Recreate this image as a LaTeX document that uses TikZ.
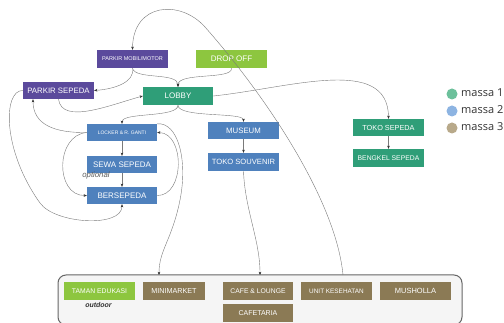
\documentclass[tikz,border=0pt]{standalone}
\usepackage{fontspec}
\setmainfont{Liberation Sans}
\newfontfamily\legfont{Open Sans}
\usetikzlibrary{arrows.meta}
\definecolor{cpurple}{HTML}{5B4A9C}
\definecolor{cgreen}{HTML}{8DC63F}
\definecolor{cteal}{HTML}{2F9E78}
\definecolor{cblue}{HTML}{4F81BD}
\definecolor{ctan}{HTML}{8B7A55}
\definecolor{lteal}{HTML}{6CC09B}
\definecolor{lblue}{HTML}{8DB4E2}
\definecolor{ltan}{HTML}{B8A98A}
\definecolor{linkgray}{HTML}{7A7A7A}
\newcommand{\fs}[1]{\fontsize{#1}{#1}\selectfont}
\tikzset{
  box/.style={minimum width=71pt, minimum height=17pt, inner sep=0pt, text=white, font=\fs{7.5}},
  link/.style={draw=linkgray, line width=0.4pt, -{Stealth[length=3.2pt,width=2.6pt,color=black!80]}},
}
\begin{document}
\begin{tikzpicture}[x=1pt,y=-1pt]
\useasboundingbox (0,0) rectangle (504,323);
\fill[white] (0,0) rectangle (504,323);
\begin{scope}
\clip (0,0) rectangle (504,323);
% container
\node[draw=black!60, line width=1pt, fill=black!4, rounded corners=8pt, minimum width=404pt, minimum height=50pt, inner sep=0pt] (cont) at (260,300) {};
\end{scope}
\coordinate (inmini) at (159,275);
\coordinate (incafe) at (260,275);
\coordinate (outc) at (343,275);

% nodes
\node[box, fill=cpurple, minimum height=18pt, font=\fs{5.5}] (pmm) at (132.5,59) {PARKIR MOBIL/MOTOR};
\node[box, fill=cgreen, minimum height=18pt, font=\fs{8}] (drop) at (231.5,59) {DROP OFF};
\node[box, fill=cpurple, font=\fs{7.8}] (ps) at (58.5,90.5) {PARKIR SEPEDA};
\node[box, fill=cteal, minimum width=70pt, minimum height=18pt, font=\fs{8}] (lobby) at (178,96) {LOBBY};
\node[box, fill=cblue, minimum width=70pt, font=\fs{5}] (locker) at (122,132.5) {LOCKER \& R. GANTI};
\node[box, fill=cblue, minimum width=70pt, font=\fs{8}] (sewa) at (122,164.5) {SEWA SEPEDA};
\node[box, fill=cblue, minimum width=70pt, font=\fs{8}] (bers) at (122,195.5) {BERSEPEDA};
\node[box, fill=cblue, font=\fs{7.8}] (museum) at (243.5,130.5) {MUSEUM};
\node[box, fill=cblue, minimum height=18pt, font=\fs{7.6}] (souv) at (243.5,162) {TOKO SOUVENIR};
\node[box, fill=cteal, font=\fs{7.3}] (tsep) at (388.5,127.5) {TOKO SEPEDA};
\node[box, fill=cteal, minimum height=18pt, font=\fs{6.8}] (beng) at (388.5,158) {BENGKEL SEPEDA};
\node[box, fill=cgreen, minimum height=18pt, font=\fs{6.8}] (taman) at (99.5,291) {TAMAN EDUKASI};
\node[box, fill=ctan, minimum width=62pt, minimum height=18pt, font=\fs{7.2}] (mini) at (174,291) {MINIMARKET};
\node[box, fill=ctan, minimum width=70pt, minimum height=18pt, font=\fs{6.8}] (cafe) at (258,291) {CAFE \& LOUNGE};
\node[box, fill=ctan, minimum width=70pt, minimum height=18pt, font=\fs{7}] (cafet) at (258,313) {CAFETARIA};
\node[box, fill=ctan, minimum height=18pt, font=\fs{6.4}] (unit) at (336.5,291) {UNIT KESEHATAN};
\node[box, fill=ctan, minimum height=18pt, font=\fs{7.5}] (mush) at (415.5,291) {MUSHOLLA};

\node[font=\fs{7.8}\itshape, text=black!65, inner sep=0pt] (opt) at (96,175) {optional};
\node[font=\fs{7}\bfseries\itshape, text=black!80, inner sep=0pt] (outd) at (98.5,305) {outdoor};

% legend
\node[circle, fill=lteal, minimum size=11pt, inner sep=0pt] (l1) at (452,94) {};
\node[circle, fill=lblue, minimum size=11pt, inner sep=0pt] (l2) at (452,111) {};
\node[circle, fill=ltan, minimum size=11pt, inner sep=0pt] (l3) at (452,128) {};
\node[anchor=west, font=\legfont\fs{11}, text=black!80, inner sep=0pt] (t1) at (461,93) {massa 1};
\node[anchor=west, font=\legfont\fs{11}, text=black!80, inner sep=0pt] (t2) at (461,110) {massa 2};
\node[anchor=west, font=\legfont\fs{11}, text=black!80, inner sep=0pt] (t3) at (461,127) {massa 3};

% connectors
\draw[link] (outc) .. controls (336,200) and (265,95) .. (205,27) .. controls (180,-1) and (133,3) .. (pmm.north);
\draw[link] (pmm.south) .. controls (135,80) and (178,72) .. (lobby.north);
\draw[link] (drop.south) .. controls (233,80) and (178,72) .. (lobby.north);
\draw[link] (pmm.south) .. controls (135,82) and (115,89) .. (ps.east);
\draw[link] (ps.south) .. controls (62,125) and (110,105) .. (lobby.west);
\draw[link] (lobby.south) .. controls (178,118) and (122,112) .. (locker.north);
\draw[link] (lobby.south) .. controls (178,118) and (243.5,112) .. (museum.north);
\draw[link] (locker.west) .. controls (55,133) and (33,125) .. ([xshift=-25.5pt]ps.south);
\draw[link] (ps.west) .. controls (3,90) and (2,150) .. (40,203) .. controls (55,224) and (122,228) .. (bers.south);
\draw[link] (locker.west) .. controls (55,135) and (55,196) .. (bers.west);
\draw[link] (locker) -- (sewa);
\draw[link] (sewa) -- (bers);
\draw[link] (bers.east) .. controls (185,196) and (185,133) .. (locker.east);
\draw[link] (locker.north east) .. controls (178,122) and (188,160) .. (180,200) .. controls (172,240) and (159,250) .. (inmini);
\draw[link] (museum) -- (souv);
\draw[link] (tsep) -- (beng);
\draw[link] (souv.south) .. controls (245,210) and (260,240) .. (incafe);
\draw[link] (lobby.east) .. controls (290,88) and (388,55) .. (tsep.north);
\end{tikzpicture}
\end{document}
